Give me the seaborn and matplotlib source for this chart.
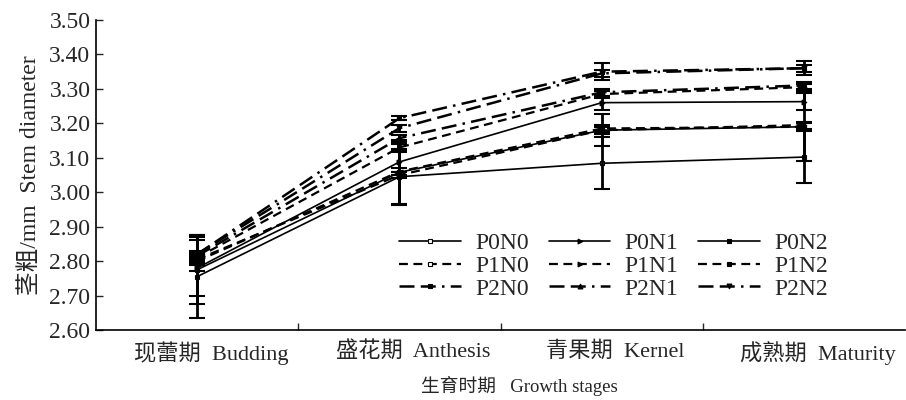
import matplotlib
matplotlib.use("Agg")
import pandas as pd
import seaborn as sns
from matplotlib import pyplot as plt
from matplotlib.transforms import ScaledTranslation

# 生育时期
stages = ["现蕾期  Budding", "盛花期  Anthesis", "青果期  Kernel", "成熟期  Maturity"]
treatments = ["P0N0", "P0N1", "P0N2", "P1N0", "P1N1", "P1N2", "P2N0", "P2N1", "P2N2"]

# 茎粗 (mm)
p0n0 = [2.755, 3.045, 3.084, 3.102]
p0n1 = [2.780, 3.088, 3.260, 3.263]
p0n2 = [2.775, 3.058, 3.180, 3.190]
p1n0 = [2.800, 3.060, 3.185, 3.190]
p1n1 = [2.805, 3.050, 3.180, 3.195]
p1n2 = [2.810, 3.130, 3.285, 3.305]
p2n0 = [2.820, 3.215, 3.350, 3.360]
p2n1 = [2.815, 3.157, 3.290, 3.310]
p2n2 = [2.820, 3.186, 3.345, 3.360]

# 标准差
err_p0n0 = [0.120, 0.080, 0.076, 0.076]
err_p0n1 = [0.080, 0.030, 0.020, 0.025]
err_p0n2 = [0.100, 0.095, 0.046, 0.100]
err_p1n0 = [0.010, 0.010, 0.010, 0.010]
err_p1n1 = [0.010, 0.010, 0.010, 0.010]
err_p1n2 = [0.010, 0.010, 0.010, 0.010]
err_p2n0 = [0.050, 0.005, 0.025, 0.020]
err_p2n1 = [0.010, 0.010, 0.010, 0.010]
err_p2n2 = [0.010, 0.010, 0.010, 0.010]

values = [p0n0, p0n1, p0n2, p1n0, p1n1, p1n2, p2n0, p2n1, p2n2]
errors = [err_p0n0, err_p0n1, err_p0n2, err_p1n0, err_p1n1, err_p1n2,
          err_p2n0, err_p2n1, err_p2n2]

sns.set_theme(style="white")
plt.rcParams['font.family'] = ['Liberation Serif', 'Noto Sans CJK SC']
plt.rcParams['axes.unicode_minus'] = False

solid = "-"
dashed = (0, (4, 2.5))
dashdot = (0, (6, 2.5, 6, 2.5, 1, 2.5))
styles = [solid, solid, solid, dashed, dashed, dashed, dashdot, dashdot, dashdot]
markers = ["s", ">", "s", "s", ">", "s", "s", "^", "v"]
mfcs = ["white", "black", "black", "white", "black", "black", "black", "black", "black"]
widths = [1.2, 1.2, 1.2, 1.6, 1.6, 1.6, 1.8, 1.8, 1.8]

x = list(range(len(stages)))

fig, ax = plt.subplots(figsize=(9.06, 4.0), dpi=100)
fig.subplots_adjust(left=0.106, right=0.999, bottom=0.175, top=0.95)

handles = {}
for name, vals, errs, ls, mk, fc, lw in zip(treatments, values, errors, styles, markers, mfcs, widths):
    df = pd.DataFrame({"stage": x, "value": vals})
    sns.lineplot(data=df, x="stage", y="value", ax=ax, color="black", linestyle=ls,
                 linewidth=lw, marker=mk, markersize=3.5, markerfacecolor=fc,
                 markeredgecolor="black", markeredgewidth=0.8, label=name, legend=False)
    handles[name] = ax.lines[-1]
    ax.errorbar(x, vals, yerr=errs, fmt="none", ecolor="black", elinewidth=2.0,
                capsize=6, capthick=1.5, zorder=3)

ax.set_xlim(-0.5, 3.5)
ax.set_ylim(2.60, 3.50)
ax.set_yticks([2.60 + 0.1 * i for i in range(10)])
ax.set_yticklabels([f"{2.60 + 0.1 * i:.2f}" for i in range(10)], fontsize=17)
ax.tick_params(axis="y", direction="in", length=5, width=1, left=True, pad=4)

ax.set_xticks([0.5, 1.5, 2.5])
ax.set_xticklabels([])
ax.tick_params(axis="x", which="major", direction="in", length=5, width=1, bottom=True)
ax.set_xticks(x, minor=True)
ax.set_xticklabels(stages, minor=True, fontsize=16)
ax.tick_params(axis="x", which="minor", length=0, pad=8)
shift = ScaledTranslation(14 / 100, 0, fig.dpi_scale_trans)
for lab in ax.get_xticklabels(minor=True):
    lab.set_transform(lab.get_transform() + shift)

ax.set_xlabel("生育时期   Growth stages", fontsize=13.5)
ax.xaxis.set_label_coords(0.523, -0.148)
ax.set_ylabel("茎粗/mm  Stem diameter", fontsize=17, labelpad=6)

for s in ["top", "right"]:
    ax.spines[s].set_visible(False)
for s in ["left", "bottom"]:
    ax.spines[s].set_color("black")
    ax.spines[s].set_linewidth(1.2)
ax.grid(False)

# legend filled row by row
order = ["P0N0", "P1N0", "P2N0", "P0N1", "P1N1", "P2N1", "P0N2", "P1N2", "P2N2"]
ax.legend([handles[n] for n in order], order, ncol=3, frameon=False, fontsize=17,
          loc="center left", bbox_to_anchor=(0.375, 0.206), handlelength=2.6,
          handletextpad=0.6, columnspacing=0.85, labelspacing=0.05, numpoints=1,
          borderaxespad=0, borderpad=0)

plt.savefig("out.png", dpi=100)
